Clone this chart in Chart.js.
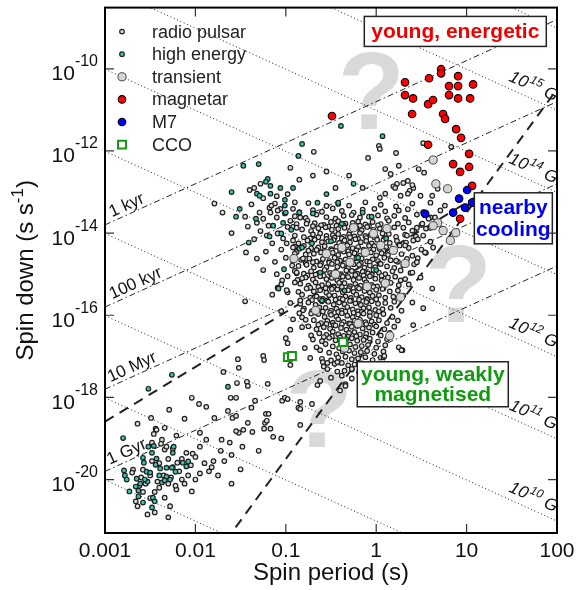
<!doctype html>
<html lang="en">
<head>
<meta charset="UTF-8" />
<title>P-Pdot diagram</title>
<script src="https://cdn.jsdelivr.net/npm/chart.js@4.4.0/dist/chart.umd.min.js"></script>
<style>
  body { margin: 0; background: #fff; }
  canvas { display: block; }
</style>
</head>
<body>
<canvas id="ppdot" width="578" height="590"></canvas>
<script>
const FONT = '"Liberation Sans", Arial, Helvetica, sans-serif';

// axis ranges, log10 of seconds and s/s
const logPRange = [-3, 2];
const logPdotRange = [-21.285, -8.51];
const xTickExps = [-3, -2, -1, 0, 1, 2];
const xTickLabels = ['0.001', '0.01', '0.1', '1', '10', '100'];
const yTickExps = [-10, -12, -14, -16, -18, -20];

// reference lines
const fieldLinesG = [1e8, 1e9, 1e10, 1e11, 1e12, 1e13, 1e14, 1e15, 1e16];
const fieldLabelExps = [10, 11, 12, 14, 15];
const ageLinesYr = [1e3, 1e5, 1e7, 1e9];
const ageLabels = ['1 kyr', '100 kyr', '10 Myr', '1 Gyr'];
const ageLabelLogP = [-2.72, -2.62, -2.66, -2.72];
// thick dashed lines: log Pdot = slope * log P + offset
const gentleLine = { slope: 4 / 3, offset: -14.59 };
const steepLine = { slope: 3, offset: -16.5 };

// every point is [log10 P, log10 Pdot]
const radioCore = [
  [-0.75,-13.27],[-0.55,-13.34],[-0.42,-13.29],[-0.30,-13.33],[-0.12,-13.25],[0.05,-13.31],[0.22,-13.35],[0.40,-13.28],[0.60,-13.26],
  [-0.85,-13.49],[-0.70,-13.44],[-0.60,-13.48],[-0.48,-13.40],[-0.38,-13.46],[-0.25,-13.50],[-0.15,-13.43],[-0.02,-13.41],[0.10,-13.47],[0.25,-13.45],[0.35,-13.42],[0.52,-13.49],
  [-0.90,-13.59],[-0.78,-13.63],[-0.66,-13.55],[-0.55,-13.61],[-0.45,-13.65],[-0.36,-13.58],[-0.27,-13.56],[-0.18,-13.62],[-0.08,-13.60],[0.02,-13.57],[0.12,-13.64],[0.20,-13.58],[0.32,-13.63],[0.45,-13.55],[0.60,-13.62],
  [-0.88,-13.78],[-0.76,-13.70],[-0.68,-13.76],[-0.58,-13.80],[-0.50,-13.73],[-0.42,-13.71],[-0.34,-13.77],[-0.26,-13.75],[-0.20,-13.72],[-0.12,-13.79],[-0.04,-13.73],[0.05,-13.78],[0.14,-13.70],[0.24,-13.77],[0.36,-13.74],[0.50,-13.80],
  [-0.70,-13.83],[-0.61,-13.81],[-0.53,-13.84],[-0.44,-13.82],[-0.36,-13.81],[-0.27,-13.84],[-0.18,-13.82],[-0.08,-13.83],[0.02,-13.81],
  [-0.92,-13.85],[-0.82,-13.91],[-0.72,-13.95],[-0.64,-13.88],[-0.56,-13.86],[-0.49,-13.92],[-0.42,-13.90],[-0.35,-13.87],[-0.29,-13.94],[-0.22,-13.88],[-0.16,-13.93],[-0.10,-13.85],[-0.03,-13.92],[0.04,-13.89],[0.12,-13.95],[0.20,-13.86],[0.30,-13.87],[0.42,-13.94],[0.55,-13.89],
  [-0.90,-14.06],[-0.80,-14.10],[-0.70,-14.03],[-0.62,-14.01],[-0.55,-14.07],[-0.48,-14.05],[-0.42,-14.02],[-0.36,-14.09],[-0.30,-14.03],[-0.24,-14.08],[-0.18,-14.00],[-0.12,-14.07],[-0.06,-14.04],[0.00,-14.10],[0.07,-14.01],[0.14,-14.02],[0.22,-14.09],[0.32,-14.04],[0.44,-14.08],
  [-0.73,-14.13],[-0.64,-14.10],[-0.55,-14.14],[-0.46,-14.11],[-0.38,-14.13],[-0.29,-14.10],[-0.20,-14.14],[-0.11,-14.12],[-0.02,-14.10],[0.09,-14.13],
  [-0.86,-14.25],[-0.76,-14.18],[-0.68,-14.16],[-0.60,-14.22],[-0.53,-14.20],[-0.47,-14.17],[-0.41,-14.24],[-0.35,-14.18],[-0.29,-14.23],[-0.23,-14.15],[-0.17,-14.22],[-0.11,-14.19],[-0.05,-14.25],[0.01,-14.16],[0.08,-14.17],[0.15,-14.24],[0.23,-14.19],[0.33,-14.23],[0.46,-14.15],[0.60,-14.21],
  [-0.90,-14.33],[-0.80,-14.31],[-0.72,-14.37],[-0.64,-14.35],[-0.57,-14.32],[-0.50,-14.39],[-0.44,-14.33],[-0.38,-14.38],[-0.32,-14.30],[-0.26,-14.37],[-0.20,-14.34],[-0.14,-14.40],[-0.08,-14.31],[-0.02,-14.32],[0.04,-14.39],[0.11,-14.34],[0.18,-14.38],[0.26,-14.30],[0.36,-14.36],[0.50,-14.40],
  [-0.75,-14.43],[-0.66,-14.41],[-0.58,-14.44],[-0.49,-14.42],[-0.40,-14.41],[-0.31,-14.44],[-0.22,-14.42],[-0.13,-14.43],[-0.03,-14.40],[0.08,-14.43],
  [-0.88,-14.46],[-0.78,-14.52],[-0.69,-14.50],[-0.61,-14.47],[-0.54,-14.54],[-0.48,-14.48],[-0.42,-14.53],[-0.36,-14.45],[-0.30,-14.52],[-0.24,-14.49],[-0.18,-14.55],[-0.12,-14.46],[-0.06,-14.47],[0.00,-14.54],[0.06,-14.49],[0.13,-14.53],[0.20,-14.45],[0.28,-14.51],[0.40,-14.55],[0.55,-14.48],
  [-0.92,-14.67],[-0.83,-14.65],[-0.74,-14.62],[-0.66,-14.69],[-0.59,-14.63],[-0.52,-14.68],[-0.46,-14.60],[-0.40,-14.67],[-0.34,-14.64],[-0.28,-14.70],[-0.22,-14.61],[-0.16,-14.62],[-0.10,-14.69],[-0.04,-14.64],[0.02,-14.68],[0.09,-14.60],[0.16,-14.66],[0.24,-14.70],[0.34,-14.63],[0.46,-14.61],
  [-0.78,-14.73],[-0.70,-14.71],[-0.61,-14.74],[-0.52,-14.72],[-0.43,-14.71],[-0.35,-14.74],[-0.26,-14.72],[-0.17,-14.73],[-0.07,-14.71],[0.04,-14.74],
  [-0.86,-14.80],[-0.77,-14.77],[-0.69,-14.84],[-0.62,-14.78],[-0.55,-14.83],[-0.49,-14.75],[-0.43,-14.82],[-0.37,-14.79],[-0.31,-14.85],[-0.25,-14.76],[-0.19,-14.77],[-0.13,-14.84],[-0.07,-14.79],[-0.01,-14.83],[0.05,-14.75],[0.12,-14.81],[0.20,-14.85],[0.30,-14.78],[0.42,-14.76],
  [-0.90,-14.92],[-0.80,-14.99],[-0.72,-14.93],[-0.64,-14.98],[-0.57,-14.90],[-0.51,-14.97],[-0.45,-14.94],[-0.39,-15.00],[-0.33,-14.91],[-0.27,-14.92],[-0.21,-14.99],[-0.15,-14.94],[-0.09,-14.98],[-0.03,-14.90],[0.03,-14.96],[0.10,-15.00],[0.18,-14.93],[0.27,-14.91],[0.38,-14.97],
  [-0.76,-15.03],[-0.67,-15.01],[-0.58,-15.04],[-0.49,-15.02],[-0.41,-15.01],[-0.32,-15.04],[-0.23,-15.02],[-0.14,-15.03],[-0.05,-15.01],[0.06,-15.04],
  [-0.87,-15.14],[-0.78,-15.08],[-0.70,-15.13],[-0.62,-15.05],[-0.55,-15.12],[-0.49,-15.09],[-0.43,-15.15],[-0.37,-15.06],[-0.31,-15.07],[-0.25,-15.14],[-0.19,-15.09],[-0.13,-15.13],[-0.07,-15.05],[-0.01,-15.11],[0.06,-15.15],[0.13,-15.08],[0.21,-15.06],[0.32,-15.12],
  [-0.84,-15.23],[-0.75,-15.28],[-0.67,-15.20],[-0.60,-15.27],[-0.53,-15.24],[-0.47,-15.30],[-0.41,-15.21],[-0.35,-15.22],[-0.29,-15.29],[-0.23,-15.24],[-0.17,-15.28],[-0.11,-15.20],[-0.05,-15.26],[0.01,-15.30],[0.08,-15.23],[0.16,-15.21],[0.25,-15.27],[0.36,-15.25],
  [-0.73,-15.33],[-0.64,-15.31],[-0.56,-15.34],[-0.47,-15.32],[-0.38,-15.31],[-0.30,-15.34],[-0.21,-15.32],[-0.12,-15.33],[-0.03,-15.31],[0.08,-15.34],
  [-0.86,-15.43],[-0.77,-15.35],[-0.69,-15.42],[-0.62,-15.39],[-0.55,-15.45],[-0.49,-15.36],[-0.43,-15.37],[-0.37,-15.44],[-0.31,-15.39],[-0.25,-15.43],[-0.19,-15.35],[-0.13,-15.41],[-0.07,-15.45],[0.00,-15.38],[0.07,-15.36],[0.15,-15.42],[0.24,-15.40],
  [-0.82,-15.50],[-0.73,-15.57],[-0.66,-15.54],[-0.59,-15.60],[-0.52,-15.51],[-0.46,-15.52],[-0.40,-15.59],[-0.34,-15.54],[-0.28,-15.58],[-0.22,-15.50],[-0.16,-15.56],[-0.10,-15.60],[-0.04,-15.53],[0.03,-15.51],[0.10,-15.57],[0.19,-15.55],[0.30,-15.52],
  [-0.71,-15.63],[-0.62,-15.61],[-0.54,-15.64],[-0.45,-15.62],[-0.37,-15.61],[-0.28,-15.64],[-0.19,-15.62],[-0.10,-15.63],[0.00,-15.61],
  [-0.84,-15.72],[-0.75,-15.69],[-0.67,-15.75],[-0.60,-15.66],[-0.53,-15.67],[-0.47,-15.74],[-0.41,-15.69],[-0.35,-15.73],[-0.29,-15.65],[-0.23,-15.71],[-0.17,-15.75],[-0.11,-15.68],[-0.05,-15.66],[0.02,-15.72],[0.10,-15.70],[0.20,-15.67],
  [-0.80,-15.84],[-0.71,-15.90],[-0.63,-15.81],[-0.56,-15.82],[-0.50,-15.89],[-0.44,-15.84],[-0.38,-15.88],[-0.32,-15.80],[-0.26,-15.86],[-0.20,-15.90],[-0.14,-15.83],[-0.08,-15.81],[-0.01,-15.87],[0.07,-15.85],[0.16,-15.82],[0.28,-15.89],
  [-0.68,-15.93],[-0.59,-15.91],[-0.51,-15.94],[-0.42,-15.92],[-0.34,-15.91],[-0.25,-15.94],[-0.16,-15.92],[-0.07,-15.93],[0.03,-15.91],
  [-0.82,-16.05],[-0.72,-15.96],[-0.64,-15.97],[-0.57,-16.04],[-0.50,-15.99],[-0.44,-16.03],[-0.38,-15.95],[-0.32,-16.01],[-0.26,-16.05],[-0.20,-15.98],[-0.14,-15.96],[-0.07,-16.02],[0.00,-16.00],[0.08,-15.97],[0.18,-16.04],
  [-0.78,-16.11],[-0.69,-16.12],[-0.61,-16.19],[-0.54,-16.14],[-0.48,-16.18],[-0.42,-16.10],[-0.36,-16.16],[-0.30,-16.20],[-0.24,-16.13],[-0.18,-16.11],[-0.12,-16.17],[-0.05,-16.15],[0.03,-16.12],[0.12,-16.19],[0.24,-16.13],
  [-0.64,-16.23],[-0.55,-16.21],[-0.47,-16.24],[-0.38,-16.22],[-0.29,-16.21],[-0.20,-16.24],[-0.11,-16.22],[-0.02,-16.23],
  [-0.75,-16.27],[-0.66,-16.34],[-0.58,-16.29],[-0.51,-16.33],[-0.45,-16.25],[-0.39,-16.31],[-0.33,-16.35],[-0.27,-16.28],[-0.21,-16.26],[-0.15,-16.32],[-0.08,-16.30],[0.00,-16.27],[0.09,-16.34],[0.20,-16.28],
  [-0.72,-16.49],[-0.63,-16.44],[-0.55,-16.48],[-0.48,-16.40],[-0.42,-16.46],[-0.36,-16.50],[-0.30,-16.43],[-0.24,-16.41],[-0.18,-16.47],[-0.11,-16.45],[-0.04,-16.42],[0.05,-16.49],[0.15,-16.43],
  [-0.58,-16.53],[-0.49,-16.51],[-0.40,-16.54],[-0.31,-16.52],[-0.22,-16.51],[-0.12,-16.54],
  [-0.70,-16.59],[-0.60,-16.63],[-0.52,-16.55],[-0.45,-16.61],[-0.39,-16.65],[-0.33,-16.58],[-0.27,-16.56],[-0.21,-16.62],[-0.14,-16.60],[-0.07,-16.57],[0.02,-16.64],[0.12,-16.58],
  [-0.66,-16.78],[-0.56,-16.70],[-0.48,-16.76],[-0.41,-16.80],[-0.35,-16.73],[-0.29,-16.71],[-0.23,-16.77],[-0.16,-16.75],[-0.09,-16.72],[0.00,-16.79],[0.10,-16.73],[0.25,-16.78],
  [-0.62,-16.85],[-0.52,-16.91],[-0.44,-16.95],[-0.37,-16.88],[-0.30,-16.86],[-0.24,-16.92],[-0.17,-16.90],[-0.10,-16.87],[-0.02,-16.94],[0.08,-16.88],
  [-0.60,-17.06],[-0.50,-17.10],[-0.42,-17.03],[-0.34,-17.01],[-0.27,-17.07],[-0.20,-17.05],[-0.12,-17.02],[-0.04,-17.09],[0.05,-17.03],
  [-0.58,-17.25],[-0.46,-17.18],[-0.38,-17.16],[-0.31,-17.22],[-0.24,-17.20],[-0.16,-17.17],[0.02,-17.18],
  [-0.54,-17.31],[-0.43,-17.37],[-0.35,-17.35],[-0.27,-17.32],[-0.19,-17.39],
  [-0.50,-17.52],[-0.38,-17.47],[-0.27,-17.54],[-0.34,-17.68],[-0.62,-17.60],[-0.40,-17.83]
];

const radioScatter = [
  [0.52,-11.81],[0.83,-11.90],[0.22,-12.05],[0.25,-12.36],[0.47,-12.44],[0.53,-12.53],[0.10,-12.44],[0.16,-12.56],[0.23,-12.80],[0.19,-12.86],
  [0.35,-12.73],[0.41,-12.90],[0.37,-12.97],[0.10,-13.04],[0.04,-13.14],[-0.69,-12.02],[0.03,-11.88],[0.04,-11.95],[-0.09,-12.17],[0.21,-12.90],
  [0.30,-12.78],[0.40,-12.83],[0.27,-13.09],[0.35,-13.04],[0.49,-13.09],[0.62,-13.09],[0.68,-12.92],[0.76,-13.33],[0.71,-13.45],[0.65,-13.62],
  [0.58,-13.65],[0.51,-13.77],[0.45,-13.87],[0.40,-13.94],[0.34,-14.06],[0.41,-14.18],[0.32,-14.30],[0.52,-14.06],[0.60,-13.87],[0.73,-13.89],
  [0.63,-14.35],[0.54,-14.47],[0.45,-14.71],[0.40,-14.96],[0.49,-15.08],[0.62,-15.35],[0.52,-15.83],[0.41,-16.24],[0.29,-16.85],[0.08,-17.02],
  [0.40,-15.69],[0.27,-15.15],[0.22,-14.67],
  [-1.28,-12.80],[-1.35,-12.90],[-0.95,-12.41],[-1.79,-13.28],[-1.12,-13.28],[-1.18,-13.38],[-1.29,-13.50],[-1.17,-13.50],[-1.06,-13.41],[-1.42,-13.84],
  [-1.32,-13.75],[-1.21,-14.06],[-1.19,-13.82],[-1.09,-14.01],[-1.03,-14.13],[-1.44,-14.47],[-1.32,-14.62],[-0.99,-14.25],[-0.92,-14.35],[-0.93,-14.79],
  [-1.04,-15.15],[-0.88,-14.98],[-0.90,-15.20],[-0.98,-15.44],[-1.45,-15.66],[-1.00,-16.56],[-0.98,-16.68],
  [-1.16,-13.33],[-1.09,-13.45],[-1.01,-13.52],[-0.92,-13.41],[-0.95,-13.70],[-0.88,-13.87],[-0.84,-13.62],[-0.77,-13.77],[-0.92,-14.18],[-0.90,-14.50],
  [-0.81,-14.62],[-0.88,-14.96],[-0.82,-15.10],[-1.05,-15.25],[-0.99,-15.39],[-1.09,-15.33],[-0.84,-15.64],[-0.81,-15.88],[-0.85,-15.95],[-0.82,-16.29],
  [-1.40,-12.95],[-1.25,-13.15],[-1.10,-13.10],[-0.98,-13.05],[-0.90,-13.25],[-1.38,-13.30],[-1.45,-13.60],[-1.25,-13.65],[-1.10,-13.62],[-0.98,-13.85],
  [-1.28,-13.95],[-1.35,-14.15],[-1.15,-14.25],[-1.05,-14.40],[-1.22,-14.45],[-1.00,-14.60],[-1.12,-14.70],[-1.25,-14.90],[-1.10,-15.00],[-0.98,-15.05],
  [-1.15,-15.50],[-0.95,-15.70],[-1.05,-15.90],[-0.92,-16.10],[-0.95,-16.35],[-1.60,-14.00],[-1.70,-13.50],[-0.85,-12.70],[-0.70,-12.60],[-0.55,-12.50],
  [-0.45,-12.90],[-0.30,-12.60],[-0.15,-12.90],
  [-0.27,-17.31],[-0.34,-17.72],[-0.65,-17.70],[-0.84,-18.11],[-0.86,-18.25],[-0.71,-18.16],[0.28,-16.85],[0.09,-16.99],[-0.79,-16.80],[-0.73,-17.04],
  [-0.59,-17.14],[-0.43,-17.14],[-0.95,-17.21],[-1.25,-16.99],[-0.54,-17.16],
  [-1.24,-17.09],[-1.53,-17.07],[-1.52,-17.28],[-1.69,-17.38],[-1.54,-17.65],[-1.43,-17.62],[-1.42,-17.72],[-1.20,-17.67],[-2.04,-18.01],[-1.96,-18.16],
  [-1.88,-18.23],[-2.29,-18.30],[-1.61,-18.01],[-1.55,-18.01],[-1.34,-18.08],[-1.64,-18.33],[-1.59,-18.50],[-1.55,-18.45],[-1.79,-18.50],[-2.12,-18.52],
  [-1.38,-18.25],[-1.22,-18.40],[-1.19,-18.40],[-1.04,-18.08],[-1.01,-18.01],[-0.98,-18.04],[-0.84,-18.28],[-1.23,-18.62],[-1.21,-18.57],[-1.42,-18.62],
  [-1.47,-18.79],[-1.52,-18.86],[-1.55,-18.82],[-1.37,-18.84],[-1.24,-18.76],[-1.17,-18.76],[-1.14,-18.96],[-0.84,-18.67],[-2.64,-18.64],[-2.49,-18.50],
  [-2.44,-18.76],[-2.34,-18.74],[-2.21,-18.93],[-1.95,-18.86],[-1.88,-19.03],[-1.71,-19.03],[-1.62,-19.10],[-1.48,-19.20],
  [-2.43,-18.79],[-2.46,-18.89],[-2.37,-19.03],[-2.38,-19.13],[-2.48,-19.10],[-2.34,-19.27],[-2.32,-19.20],[-2.25,-19.25],[-2.69,-19.76],[-2.70,-19.83],
  [-2.58,-19.76],[-2.15,-20.00],[-2.21,-20.24],[-2.04,-20.29],[-2.03,-19.37],[-2.10,-19.35],[-2.20,-19.59],[-2.34,-20.44],[-2.28,-20.65],[-2.30,-20.92],
  [-2.53,-20.85],[-2.45,-20.80],[-2.66,-20.53],[-2.64,-20.65],[-2.60,-19.95],[-2.55,-20.10],[-2.50,-19.90],[-2.42,-20.05],[-2.40,-20.20],[-2.35,-19.90],
  [-2.30,-20.10],[-2.27,-19.95],[-2.22,-20.15],[-2.18,-19.80],[-2.12,-20.10],[-2.08,-19.90],[-2.00,-20.00],[-1.95,-19.85],[-2.45,-20.30],[-2.50,-20.45],
  [-2.58,-20.30],[-2.62,-20.15],[-2.48,-19.55],[-2.40,-19.60],[-2.30,-19.50],[-2.25,-19.70],[-2.15,-19.50],[-2.05,-19.65],[-1.90,-19.60],[-1.85,-19.80],
  [-1.80,-19.55],[-1.75,-19.90],[-1.72,-19.30],[-1.95,-19.20],[-2.00,-19.45],[-1.82,-19.70],[-1.68,-19.55],[-1.60,-20.10],[-1.50,-19.75],[-1.30,-19.30],
  [-1.05,-19.00],[-1.60,-19.40]
];

const highEnergy = [
  [-2.80,-18.99],[-2.79,-19.78],[-2.78,-19.90],[-2.76,-20.00],[-2.73,-20.29],[-2.66,-20.17],[-2.63,-20.27],[-2.58,-19.47],[-2.57,-19.59],[-2.54,-19.81],
  [-2.50,-19.83],[-2.48,-19.35],[-2.46,-19.18],[-2.44,-19.64],[-2.43,-19.49],[-2.39,-19.73],[-2.37,-20.07],[-2.32,-19.93],[-2.34,-20.02],[-2.28,-20.00],
  [-2.26,-19.71],[-2.25,-19.35],[-2.32,-19.71],[-2.47,-20.44],[-2.45,-20.53],[-2.48,-20.68],[-2.58,-20.56],[-2.63,-20.41],[-2.14,-19.59],[-2.08,-19.56],
  [-2.10,-19.68],[-2.53,-20.05],[-2.65,-19.98],[-2.56,-20.00],[-2.40,-19.90],[-2.22,-19.81],[-2.61,-20.10],
  [-2.26,-17.45],[-2.52,-17.79],[-1.64,-17.74],[-2.52,-19.20],[-2.24,-19.20],
  [-1.47,-12.36],[-1.30,-12.32],[-1.20,-12.68],[-1.22,-12.75],[-1.17,-12.85],[-1.06,-12.90],[-0.92,-12.90],[-1.32,-13.04],[-1.29,-13.09],[-1.17,-13.04],
  [-1.01,-13.19],[-1.51,-13.41],[-1.00,-13.50],[-1.03,-13.75],[-1.14,-13.82],[-1.05,-14.01],[-0.94,-13.92],[-1.18,-14.08],[-1.41,-14.23],[-0.85,-14.38],
  [-1.02,-14.88],[-1.08,-15.35],[-0.85,-13.50],[-1.01,-13.33],[-0.70,-13.52],[-0.65,-13.26],[-0.42,-13.26],[-0.38,-13.77],[-0.71,-14.25],[-0.62,-14.96],
  [-0.60,-15.64],[0.11,-14.13],[-1.33,-13.65],[-0.82,-14.35],[-0.82,-11.83],[-0.86,-12.12],[-0.39,-11.39],[0.07,-11.64],
  [-0.50,-14.20],[-0.20,-14.60],[-0.35,-15.40],[-0.15,-13.50],[0.00,-14.90],[-0.05,-13.60],[-0.55,-13.05],[-0.25,-12.80],[-1.60,-13.00],[-1.55,-13.60]
];

const transients = [
  [0.63,-12.22],[0.79,-12.92],[0.66,-12.80],[0.88,-13.99],[0.82,-14.18],[0.68,-13.75],[0.74,-13.94],[0.63,-13.82],[-0.25,-13.87],[-0.12,-14.47],
  [-0.29,-14.71],[-0.38,-14.35],[0.10,-15.22],[0.27,-15.56],[-0.67,-15.88],[0.19,-14.42],[0.32,-14.74],[-0.03,-14.01],[0.12,-13.89],[-0.91,-14.62],
  [-0.45,-15.00],[-0.10,-15.30],[0.05,-14.30],[-0.55,-14.50],[-0.20,-16.20],[0.15,-16.50],[-0.35,-16.80]
];

const magnetars = [
  [0.319,-10.33],[0.585,-10.23],[0.718,-10.01],[0.718,-10.11],[0.906,-10.18],[1.072,-10.38],[0.806,-10.42],[0.906,-10.42],[0.319,-10.64],[0.408,-10.72],
  [0.574,-10.86],[0.629,-10.76],[0.806,-10.64],[0.906,-10.72],[1.039,-10.72],[0.397,-11.10],[0.740,-11.10],[0.762,-11.22],[0.884,-11.47],[0.939,-11.68],
  [0.574,-11.85],[1.028,-12.07],[0.851,-12.32],[1.028,-12.39],[0.928,-12.51],[1.061,-12.85],[0.928,-13.65],[-0.489,-11.15]
];

const m7 = [
  [1.006,-12.95],[0.917,-13.16],[1.061,-13.26],[0.983,-13.38],[0.851,-13.50],[0.541,-13.53]
];

const cco = [
  [-0.368,-16.65],[-0.977,-17.02],[-0.932,-16.99]
];

// annotation anchors [log P, log Pdot]
const queryMarks = [[-0.055, -11.47], [0.91, -16.17], [-0.63, -19.20]];
const regionBoxes = [
  { lines: ['young, energetic'], color: '#ee0000', at: [0.875, -9.09], w: 182, h: 30, base: [7] },
  { lines: ['nearby', 'cooling'], color: '#0000ee', at: [1.517, -13.64], w: 78, h: 51, base: [-4.5, 17.5] },
  { lines: ['young, weakly', 'magnetised'], color: '#119911', at: [0.626, -17.68], w: 151, h: 45, base: [-3.5, 16.5] }
];

const styles = {
  radio:      { label: 'radio pulsar', r: 2.3, fill: '#dedede', stroke: '#1e1e1e', lw: 1.2, shape: 'circle' },
  highEnergy: { label: 'high energy', r: 2.3, fill: '#35c6b2', stroke: '#1e1e1e', lw: 1.2, shape: 'circle' },
  transient:  { label: 'transient', r: 4.1, fill: '#d4d4d4', stroke: '#444', lw: 1, shape: 'circle' },
  magnetar:   { label: 'magnetar', r: 3.8, fill: '#ff0000', stroke: '#000', lw: 1.1, shape: 'circle' },
  m7:         { label: 'M7', r: 3.8, fill: '#0000ff', stroke: '#000', lw: 1.1, shape: 'circle' },
  cco:        { label: 'CCO', r: 5.6, fill: '#ffffff', stroke: '#119911', lw: 2, shape: 'rect' }
};

const toXY = ([lp, lpd]) => ({ x: 10 ** lp, y: 10 ** lpd });
const fieldPdot = (B, P) => (B / 3.2e19) ** 2 / P;
const agePdot = (yr, P) => P / (2 * yr * 3.156e7);

function pointSet(key, pts, order) {
  const s = styles[key];
  return {
    label: s.label, data: pts.map(toXY), order,
    pointStyle: s.shape, pointRadius: s.r, pointHoverRadius: s.r,
    backgroundColor: s.fill, borderColor: s.stroke, borderWidth: s.lw
  };
}
function lineSet(p1, p2, dash, width) {
  return {
    type: 'line', data: [p1, p2], order: 20, showLine: true,
    borderColor: '#222', borderWidth: width, borderDash: dash,
    pointRadius: 0, fill: false, tension: 0
  };
}

const datasets = [];
fieldLinesG.forEach(B => datasets.push(lineSet(
  { x: 1e-3, y: fieldPdot(B, 1e-3) }, { x: 100, y: fieldPdot(B, 100) }, [1, 2.6], 1)));
ageLinesYr.forEach(t => datasets.push(lineSet(
  { x: 1e-3, y: agePdot(t, 1e-3) }, { x: 100, y: agePdot(t, 100) }, [6, 3, 1.5, 3], 1)));
const crossLogP = (steepLine.offset - gentleLine.offset) / (gentleLine.slope - steepLine.slope);
datasets.push(lineSet(
  { x: 1e-3, y: 10 ** (gentleLine.slope * -3 + gentleLine.offset) },
  { x: 10 ** crossLogP, y: 10 ** (gentleLine.slope * crossLogP + gentleLine.offset) }, [10, 7], 2));
datasets.push(lineSet(
  { x: 1e-2, y: 10 ** (steepLine.slope * -2 + steepLine.offset) },
  { x: 100, y: 10 ** (steepLine.slope * 2 + steepLine.offset) }, [10, 7], 2));

datasets.push(pointSet('radio', radioCore.concat(radioScatter), 6));
datasets.push(pointSet('highEnergy', highEnergy, 5));
datasets.push(pointSet('transient', transients, 4));
datasets.push(pointSet('magnetar', magnetars, 3));
datasets.push(pointSet('m7', m7, 2));
datasets.push(pointSet('cco', cco, 1));

function drawSymbol(ctx, s, cx, cy) {
  ctx.beginPath();
  if (s.shape === 'rect') {
    const h = s.r * Math.SQRT1_2;
    ctx.rect(cx - h, cy - h, 2 * h, 2 * h);
  } else {
    ctx.arc(cx, cy, s.r, 0, Math.PI * 2);
  }
  ctx.fillStyle = s.fill; ctx.fill();
  ctx.lineWidth = s.lw; ctx.strokeStyle = s.stroke; ctx.stroke();
}

function lineAngle(x, y, fn, lp) {
  const x1 = x.getPixelForValue(10 ** lp), y1 = y.getPixelForValue(fn(10 ** lp));
  const x2 = x.getPixelForValue(10 ** (lp + 0.5)), y2 = y.getPixelForValue(fn(10 ** (lp + 0.5)));
  return [x1, y1, Math.atan2(y2 - y1, x2 - x1)];
}

const overlay = {
  id: 'overlay',
  beforeDatasetsDraw(chart) {
    const { ctx, chartArea: a, scales: { x, y } } = chart;
    ctx.save();
    ctx.beginPath(); ctx.rect(a.left, a.top, a.width, a.height); ctx.clip();

    ctx.fillStyle = '#d9d9d9';
    ctx.font = 'bold 110px ' + FONT;
    ctx.textAlign = 'center'; ctx.textBaseline = 'alphabetic';
    queryMarks.forEach(([lp, lpd]) =>
      ctx.fillText('?', x.getPixelForValue(10 ** lp), y.getPixelForValue(10 ** lpd)));

    // age labels along the dash-dot lines
    ctx.fillStyle = '#111';
    ctx.font = '17px ' + FONT;
    ageLinesYr.forEach((t, i) => {
      const [px, py, ang] = lineAngle(x, y, P => agePdot(t, P), ageLabelLogP[i]);
      ctx.save(); ctx.translate(px, py); ctx.rotate(ang);
      ctx.fillText(ageLabels[i], 0, -4);
      ctx.restore();
    });

    // field labels along the dotted lines
    fieldLabelExps.forEach(e => {
      const [px, py, ang] = lineAngle(x, y, P => fieldPdot(10 ** e, P), 1.68);
      ctx.save(); ctx.translate(px, py); ctx.rotate(ang);
      ctx.textAlign = 'left';
      ctx.font = 'italic 17px ' + FONT;
      const w1 = ctx.measureText('10').width, w3 = ctx.measureText(' G').width;
      ctx.font = 'italic 12px ' + FONT;
      const w2 = ctx.measureText(String(e)).width;
      let sx = -(w1 + w2 + w3) / 2;
      ctx.font = 'italic 17px ' + FONT; ctx.fillText('10', sx, -7); sx += w1 + 1;
      ctx.font = 'italic 12px ' + FONT; ctx.fillText(String(e), sx, -14); sx += w2;
      ctx.font = 'italic 17px ' + FONT; ctx.fillText(' G', sx, -7);
      ctx.restore();
    });
    ctx.restore();
  },
  afterDatasetsDraw(chart) {
    const { ctx, chartArea: a, scales: { x, y } } = chart;
    ctx.save();

    // region boxes
    regionBoxes.forEach(b => {
      const cx = x.getPixelForValue(10 ** b.at[0]), cy = y.getPixelForValue(10 ** b.at[1]);
      ctx.fillStyle = '#fff';
      ctx.fillRect(cx - b.w / 2, cy - b.h / 2, b.w, b.h);
      ctx.strokeStyle = '#222'; ctx.lineWidth = 1.5;
      ctx.strokeRect(cx - b.w / 2, cy - b.h / 2, b.w, b.h);
      ctx.fillStyle = b.color;
      ctx.font = 'bold 21px ' + FONT;
      ctx.textAlign = 'center'; ctx.textBaseline = 'alphabetic';
      b.lines.forEach((t, i) => ctx.fillText(t, cx, cy + b.base[i]));
    });

    // legend
    ctx.font = '18px ' + FONT;
    ctx.textAlign = 'left'; ctx.textBaseline = 'middle';
    Object.values(styles).forEach((s, i) => {
      const ly = a.top + 24 + i * 22.6;
      drawSymbol(ctx, s, a.left + 17, ly);
      ctx.fillStyle = '#222';
      ctx.fillText(s.label, a.left + 47, ly + 1);
    });

    // frame and inward ticks
    ctx.strokeStyle = '#333'; ctx.lineWidth = 1.2;
    ctx.beginPath();
    xTickExps.forEach(e => {
      const px = x.getPixelForValue(10 ** e);
      ctx.moveTo(px, a.bottom); ctx.lineTo(px, a.bottom - 9);
      ctx.moveTo(px, a.top); ctx.lineTo(px, a.top + 9);
    });
    yTickExps.forEach(e => {
      const py = y.getPixelForValue(10 ** e);
      ctx.moveTo(a.left, py); ctx.lineTo(a.left + 9, py);
      ctx.moveTo(a.right, py); ctx.lineTo(a.right - 9, py);
    });
    ctx.stroke();
    ctx.strokeStyle = '#000'; ctx.lineWidth = 2;
    ctx.strokeRect(a.left, a.top, a.width, a.height);

    // tick labels
    ctx.fillStyle = '#111';
    ctx.textBaseline = 'alphabetic';
    ctx.font = '21px ' + FONT; ctx.textAlign = 'center';
    xTickExps.forEach((e, i) => ctx.fillText(xTickLabels[i], x.getPixelForValue(10 ** e), a.bottom + 24));
    yTickExps.forEach(e => {
      const py = y.getPixelForValue(10 ** e);
      ctx.font = '16px ' + FONT;
      const sup = String(e);
      const ws = ctx.measureText(sup).width;
      const sx = a.left - 7 - ws;
      ctx.textAlign = 'left'; ctx.fillText(sup, sx, py - 2.5);
      ctx.font = '21px ' + FONT;
      ctx.textAlign = 'right'; ctx.fillText('10', sx, py + 11.5);
    });

    // axis titles
    ctx.font = '24px ' + FONT; ctx.textAlign = 'center';
    ctx.fillText('Spin period (s)', (a.left + a.right) / 2, 580);

    ctx.save();
    ctx.translate(33, (a.top + a.bottom) / 2);
    ctx.rotate(-Math.PI / 2);
    ctx.textAlign = 'left';
    ctx.font = '24px ' + FONT;
    const t1 = 'Spin down (s s', t3 = ')';
    const w1 = ctx.measureText(t1).width, w3 = ctx.measureText(t3).width;
    ctx.font = '17px ' + FONT;
    const w2 = ctx.measureText('-1').width;
    let sx = -(w1 + w2 + w3) / 2;
    ctx.font = '24px ' + FONT; ctx.fillText(t1, sx, 0); sx += w1;
    ctx.font = '17px ' + FONT; ctx.fillText('-1', sx, -10); sx += w2;
    ctx.font = '24px ' + FONT; ctx.fillText(t3, sx, 0);
    ctx.restore();

    ctx.restore();
  }
};

new Chart(document.getElementById('ppdot'), {
  type: 'scatter',
  data: { datasets },
  options: {
    responsive: false,
    animation: false,
    events: [],
    layout: { padding: { left: 105, right: 21, top: 6, bottom: 57 } },
    plugins: { legend: { display: false }, tooltip: { enabled: false } },
    scales: {
      x: { type: 'logarithmic', display: false, min: 10 ** logPRange[0], max: 10 ** logPRange[1] },
      y: { type: 'logarithmic', display: false, min: 10 ** logPdotRange[0], max: 10 ** logPdotRange[1] }
    }
  },
  plugins: [overlay]
});
</script>
</body>
</html>
